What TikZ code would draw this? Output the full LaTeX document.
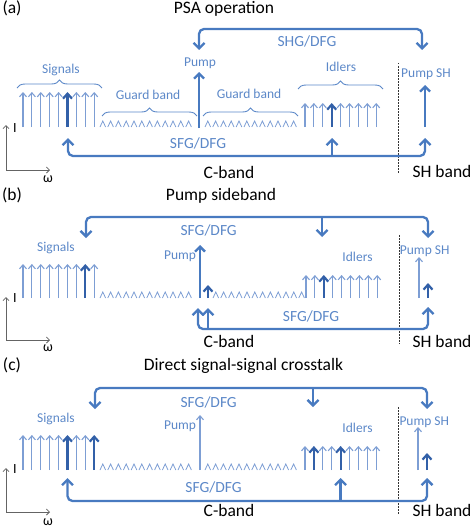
\documentclass[tikz,border=0pt]{standalone}
\usepackage{fontspec}
\setmainfont{Carlito}
\usetikzlibrary{arrows.meta,decorations.pathreplacing}
\definecolor{blueL}{RGB}{125,158,212}
\definecolor{blueM}{RGB}{72,122,192}
\definecolor{blueD}{RGB}{50,96,168}
\definecolor{blueT}{RGB}{92,136,200}
\definecolor{axgray}{RGB}{100,100,100}
\begin{document}
\begin{tikzpicture}[x=1pt,y=-1pt,
  thinar/.style={draw=blueL,line width=1.1pt,-{Straight Barb[length=4pt,width=7pt]}},
  thickar/.style={draw=blueD,line width=2.2pt,-{Straight Barb[length=5pt,width=9pt]}},
  pumpar/.style={draw=blueM,line width=2.3pt,-{Straight Barb[length=5pt,width=10pt]}},
  bline/.style={draw=blueM,line width=2.3pt,rounded corners=5pt},
  twoheads/.style={{Straight Barb[length=5.5pt,width=11pt]}-{Straight Barb[length=5.5pt,width=11pt]}},
  onehead/.style={-{Straight Barb[length=5.5pt,width=11pt]}},
  lbl/.style={text=blueT,font=\fontsize{13.5}{14}\selectfont,anchor=base,inner sep=0pt},
  sfg/.style={text=blueT,font=\fontsize{15.5}{16}\selectfont,anchor=base,inner sep=0pt},
  ttl/.style={text=black,font=\fontsize{17.5}{18}\selectfont,anchor=base,inner sep=0pt},
  axl/.style={text=black,font=\fontsize{14}{15}\selectfont,anchor=base,inner sep=0pt},
  brc/.style={draw=blueT,line width=0.9pt,decorate,decoration={brace,amplitude=8pt}},
  caret/.style={draw=blueL,line width=0.8pt},
  sep/.style={draw=black!80,line width=0.7pt,dash pattern=on 1.5pt off 1.5pt},
  axis/.style={draw=axgray,line width=0.8pt,-{Straight Barb[length=3pt,width=6pt]}}
]
\useasboundingbox (0,0) rectangle (474,527);
\newcommand{\caretrow}[2]{\foreach \i in {0,...,11}{\draw[caret] ({#1+\i*7.8},#2) -- ++(2.8,-6) -- ++(2.8,6);}}
\newcommand{\axes}[3]{% corner y, top y, label
  \coordinate (#3o) at (6,#1);
  \coordinate (#3y) at (6,#2);
  \coordinate (#3x) at (50,#1);
  \draw[axis] (#3o) -- (#3y);
  \draw[axis] (#3o) -- (#3x);}

% ================= (a) =================
\node[ttl] (aLab) at (12,14) {(a)};
\node[ttl] (aTitle) at (224,13.3) {PSA operation};
\coordinate (aTL) at (199,50);
\coordinate (aTR) at (422,50);
\draw[bline,twoheads] (aTL) -- (199,29) -- (422,29) -- (aTR);
\node[sfg] (aShg) at (307,46.7) {SHG/DFG};
\node[lbl] (aPump) at (200,66.7) {Pump};
\node[lbl] (aSig) at (61,73.3) {Signals};
\draw[brc] (17,88) -- (102,88);
\foreach \x in {23,31.9,40.8,49.7,58.6,76.4,85.3,94.2} \draw[thinar] (\x,127) -- (\x,92);
\draw[thickar] (67.5,127) -- (67.5,92);
\node[lbl] (aG1) at (148,99) {Guard band};
\node[lbl] (aG2) at (249,98.3) {Guard band};
\draw[brc] (102,116) -- (197,116);
\draw[brc] (203,116) -- (298,116);
\caretrow{100}{127}
\caretrow{205}{127}
\coordinate (aPb) at (199,128);
\coordinate (aPt) at (199,72);
\draw[pumpar] (aPb) -- (aPt);
\node[lbl] (aIdl) at (341,71.7) {Idlers};
\draw[brc] (298,89) -- (383,89);
\foreach \x in {305,313.9,322.8,340.6,349.5,358.4,367.3,376.2} \draw[thinar] (\x,127) -- (\x,103);
\draw[thickar] (331.7,127) -- (331.7,103);
\draw[sep] (398,63) -- (398,173);
\node[lbl] (aPSH) at (426,77.7) {Pump SH};
\coordinate (aSb) at (425,127);
\coordinate (aSt) at (425,85);
\draw[pumpar] (aSb) -- (aSt);
\coordinate (aBL) at (68,138);
\coordinate (aBR) at (425,138);
\coordinate (aBM) at (332,156);
\coordinate (aBMt) at (332,138);
\draw[bline,twoheads] (aBL) -- (68,156) -- (425,156) -- (aBR);
\draw[bline,onehead] (aBM) -- (aBMt);
\node[sfg] (aSfg) at (198,148) {SFG/DFG};
\node[ttl] (aC) at (229,178) {C-band};
\node[ttl] (aSH) at (442,177.5) {SH band};
\axes{170}{125}{aax}
\node[axl] (aI) at (15,132) {I};
\node[axl] (aW) at (48,182) {ω};

% ================= (b) =================
\node[ttl] (bLab) at (12,200) {(b)};
\node[ttl] (bTitle) at (221,200) {Pump sideband};
\coordinate (bTL) at (86,238);
\coordinate (bTR) at (428,238);
\coordinate (bTM) at (322,217);
\coordinate (bTMt) at (322,237);
\draw[bline,twoheads] (bTL) -- (86,217) -- (428,217) -- (bTR);
\draw[bline,onehead] (bTM) -- (bTMt);
\node[sfg] (bSfgT) at (208.7,235.7) {SFG/DFG};
\node[lbl] (bSig) at (56,251) {Signals};
\foreach \x in {23,31.9,40.8,49.7,58.6,67.5,76.4,94.2} \draw[thinar] (\x,298) -- (\x,264);
\draw[thickar] (85.3,298) -- (85.3,264);
\caretrow{100}{298}
\caretrow{213}{298}
\node[lbl] (bPump) at (180,259.5) {Pump};
\draw[pumpar] (200,298) -- (200,245);
\draw[thickar] (208,298) -- (208,285);
\node[lbl] (bIdl) at (357.5,261.7) {Idlers};
\foreach \x in {306,314.9,332.7,341.6,350.5,359.4,368.3,377.2} \draw[thinar] (\x,298) -- (\x,275);
\draw[thickar] (323.8,298) -- (323.8,275);
\draw[sep] (399,235) -- (399,344);
\node[lbl] (bPSH) at (424.7,254) {Pump SH};
\draw[thinar] (419,298) -- (419,257);
\draw[thickar] (428,298) -- (428,283);
\coordinate (bBL) at (198,308);
\coordinate (bBR) at (428,307);
\coordinate (bBM) at (208,329);
\coordinate (bBMt) at (208,308);
\draw[bline,twoheads] (bBL) -- (198,329) -- (428,329) -- (bBR);
\draw[bline,onehead] (bBM) -- (bBMt);
\node[sfg] (bSfgB) at (311,321.7) {SFG/DFG};
\node[ttl] (bC) at (229,347.5) {C-band};
\node[ttl] (bSH) at (442,347.5) {SH band};
\axes{340}{297}{bax}
\node[axl] (bI) at (15,302) {I};
\node[axl] (bW) at (48,351) {ω};

% ================= (c) =================
\node[ttl] (cLab) at (12,370) {(c)};
\node[ttl] (cTitle) at (243.5,370) {Direct signal-signal crosstalk};
\coordinate (cTL) at (95,409);
\coordinate (cTR) at (427,409);
\coordinate (cTM) at (313,388);
\coordinate (cTMt) at (313,407);
\draw[bline,twoheads] (cTL) -- (95,388) -- (427,388) -- (cTR);
\draw[bline,onehead] (cTM) -- (cTMt);
\node[sfg] (cSfgT) at (208.7,407.7) {SFG/DFG};
\node[lbl] (cSig) at (56,422) {Signals};
\foreach \x in {23,31.9,40.8,49.7,58.6,76.4,85.3} \draw[thinar] (\x,470) -- (\x,435);
\draw[thickar] (67.5,470) -- (67.5,435);
\draw[thickar] (94.2,470) -- (94.2,435);
\caretrow{100}{470}
\caretrow{205}{470}
\node[lbl] (cPump) at (180,429.7) {Pump};
\draw[thinar] (200,470) -- (200,415);
\node[lbl] (cIdl) at (357.5,432.3) {Idlers};
\foreach \x in {305,322.8,331.7,349.5,358.4,367.3,376.2} \draw[thinar] (\x,470) -- (\x,446);
\draw[thickar] (313.9,470) -- (313.9,446);
\draw[thickar] (340.6,470) -- (340.6,446);
\draw[sep] (398,407) -- (398,515);
\node[lbl] (cPSH) at (424.3,425) {Pump SH};
\draw[thinar] (418,470) -- (418,427);
\draw[thickar] (427,470) -- (427,453);
\coordinate (cBL) at (67.5,478);
\coordinate (cBR) at (427,478);
\coordinate (cBM) at (340.6,501);
\coordinate (cBMt) at (340.6,478);
\draw[bline,twoheads] (cBL) -- (67.5,501) -- (427,501) -- (cBR);
\draw[bline,onehead] (cBM) -- (cBMt);
\node[sfg] (cSfgB) at (213.5,492.7) {SFG/DFG};
\node[ttl] (cC) at (229,516) {C-band};
\node[ttl] (cSH) at (442,516) {SH band};
\axes{512}{468}{cax}
\node[axl] (cI) at (15,473) {I};
\node[axl] (cW) at (48,525) {ω};
\end{tikzpicture}
\end{document}
